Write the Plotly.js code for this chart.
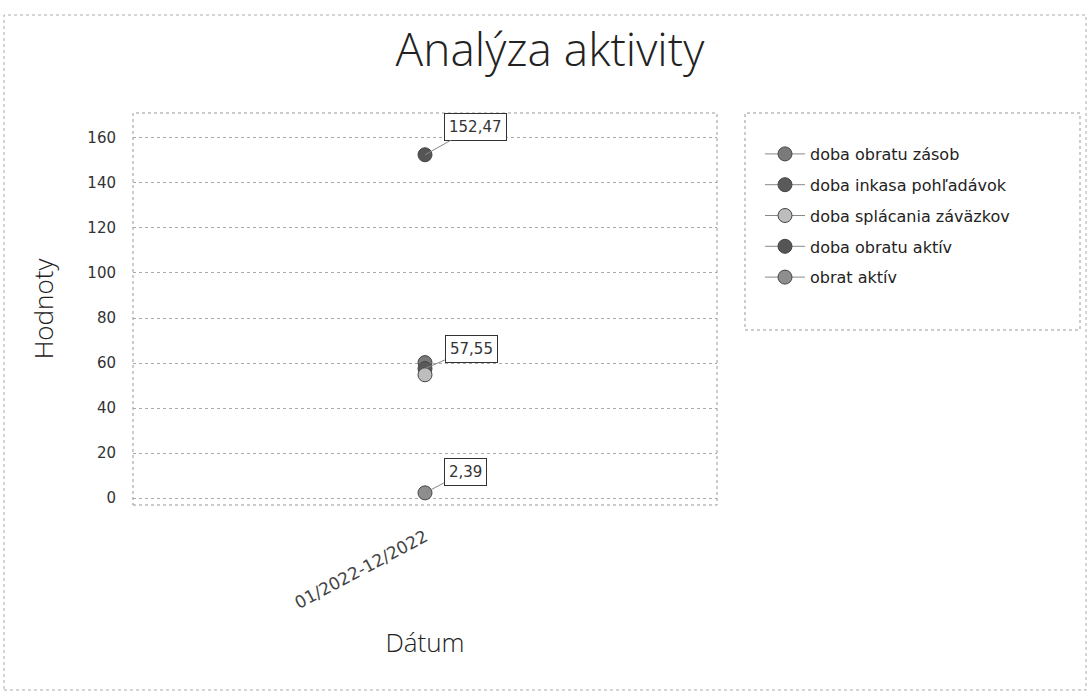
<!DOCTYPE html>
<html><head><meta charset="utf-8">
<script src="https://cdn.plot.ly/plotly-3.0.1.min.js"></script>
<style>body{margin:0;background:#fff}#c{width:1089px;height:692px}</style>
</head><body><div id="c"></div>
<script>
const categories = ["01/2022-12/2022"];
const seriesNames = ["doba obratu zásob","doba inkasa pohľadávok","doba splácania záväzkov","doba obratu aktív","obrat aktív"];
const seriesValues = [[60.2],[57.55],[54.8],[152.47],[2.39]];
const seriesColors = ["#7a7a7a","#5a5a5a","#bdbdbd","#555555","#8e8e8e"];
const labelled = ["doba obratu aktív","doba inkasa pohľadávok","obrat aktív"];
const yTicks = [0,20,40,60,80,100,120,140,160];

const traces = seriesNames.map((n,i)=>({
  type:'scatter', mode:'lines+markers', name:n, x:categories, y:seriesValues[i], legendgroup:'g'+i,
  marker:{size:14, color:seriesColors[i], line:{width:1,color:'#444'}},
  line:{color:'#888', width:1}
}));

const offsets = {"doba obratu aktív":[50,-28],"doba inkasa pohľadávok":[46,-20],"obrat aktív":[40,-21]};
const annotations = [];
seriesNames.forEach((n,i)=>{
  if(labelled.indexOf(n)<0) return;
  const v = seriesValues[i][0];
  annotations.push({x:categories[0], y:v, xref:'x', yref:'y',
    text:v.toFixed(2).replace('.',','), showarrow:true, arrowhead:0, arrowwidth:1, arrowcolor:'#888',
    ax:offsets[n][0], ay:offsets[n][1], bgcolor:'#fff', bordercolor:'#333', borderwidth:1, borderpad:4,
    font:{family:'DejaVu Sans', size:15, color:'#333'}});
});

const W=584, L=133, T=113, H=392;
function px(x){return (x-L)/W;} function py(y){return 1-(y-T)/H;}

const layout = {
  width:1089, height:692, paper_bgcolor:'#fff', plot_bgcolor:'#fff',
  margin:{l:L, r:1089-L-W, t:T, b:692-T-H},
  title:{text:'Analýza aktivity', x:0.505, xanchor:'center', y:0.928, yanchor:'middle',
    font:{family:'Open Sans', size:46, color:'#222', weight:300}},
  xaxis:{type:'category', tickvals:categories, ticktext:categories, tickangle:-28, showgrid:false, zeroline:false,
    showline:false, ticks:'', ticklabelstandoff:18, tickfont:{family:'DejaVu Sans', size:17, color:'#444'},
    title:{text:'Dátum', font:{family:'Open Sans', size:26, color:'#222', weight:300}, standoff:22}},
  yaxis:{range:[-3,171], tickvals:yTicks, ticktext:yTicks.map(String), showgrid:true, gridcolor:'#aaa', griddash:'dot',
    gridwidth:1, zeroline:false, showline:false, ticks:'', ticklen:0, ticklabelstandoff:16,
    tickfont:{family:'DejaVu Sans', size:15, color:'#333'},
    title:{text:'Hodnoty', font:{family:'Open Sans', size:26, color:'#222', weight:300}, standoff:26}},
  showlegend:true,
  legend:{x:px(760), y:py(137), xanchor:'left', yanchor:'top', bgcolor:'rgba(0,0,0,0)', borderwidth:0,
    font:{family:'DejaVu Sans', size:16, color:'#222'}, tracegroupgap:7, itemwidth:40},
  annotations:annotations,
  shapes:[
    {type:'rect', xref:'paper', yref:'paper', x0:0, x1:1, y0:0, y1:1, line:{color:'#999', width:1, dash:'dot'}},
    {type:'rect', xref:'paper', yref:'paper', x0:px(745), x1:px(1080), y0:py(330), y1:py(113), line:{color:'#999', width:1, dash:'dot'}},
    {type:'rect', xref:'paper', yref:'paper', x0:px(4), x1:px(1086), y0:py(690), y1:py(15), line:{color:'#aaa', width:1, dash:'dot'}}
  ]
};
Plotly.newPlot('c', traces, layout, {displayModeBar:false, staticPlot:true});
</script></body></html>
